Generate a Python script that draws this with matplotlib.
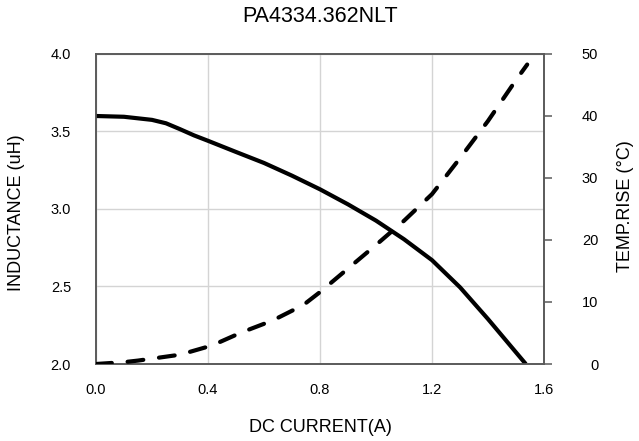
import matplotlib
matplotlib.use("Agg")
import matplotlib.pyplot as plt

# Data
current_L = [0.0, 0.1, 0.2, 0.25, 0.3, 0.35, 0.4, 0.5, 0.6, 0.7, 0.8, 0.9, 1.0, 1.1, 1.2, 1.3, 1.4, 1.5, 1.535]
inductance = [3.60, 3.595, 3.575, 3.553, 3.515, 3.475, 3.44, 3.368, 3.297, 3.215, 3.127, 3.03, 2.925, 2.805, 2.67, 2.495, 2.29, 2.075, 2.0]
current_T = [0.0, 0.1, 0.15, 0.3, 0.4, 0.44, 0.52, 0.63, 0.74, 0.8, 0.9, 1.0, 1.1, 1.2, 1.3, 1.4, 1.5, 1.54]
temp_rise = [0.0, 0.3, 0.55, 1.5, 2.8, 3.5, 5.1, 7.0, 9.5, 11.6, 15.4, 19.2, 23.1, 27.4, 33.2, 39.2, 45.8, 48.3]
x_ticks = [0.0, 0.4, 0.8, 1.2, 1.6]
y_ticks = [2.0, 2.5, 3.0, 3.5, 4.0]
t_ticks = [0, 10, 20, 30, 40, 50]

plt.rcParams['font.family'] = ['Liberation Sans', 'DejaVu Sans']

fig = plt.figure(figsize=(6.39, 4.41), dpi=100)
ax = fig.add_axes([96/639, 1-364/441, 448/639, 310/441])
ax2 = ax.twinx()

spine_c = '#5a5a5a'
grid_c = '#d4d4d4'

ax.plot(current_L, inductance, color='black', lw=3.0, solid_capstyle='butt',
        solid_joinstyle='round', zorder=3)
ax2.plot(current_T, temp_rise, color='black', lw=3.0, dashes=(3.8, 3.8),
         dash_capstyle='round', zorder=3)

ax.set_xlim(0, 1.6)
ax.set_ylim(2.0, 4.0)
ax2.set_ylim(0, 50)
ax.set_xticks(x_ticks)
ax.set_xticklabels([f"{v:.1f}" for v in x_ticks])
ax.set_yticks(y_ticks)
ax.set_yticklabels([f"{v:.1f}" for v in y_ticks])
ax2.set_yticks(t_ticks)
ax2.set_yticklabels([str(v) for v in t_ticks])

ax.grid(True, color=grid_c, lw=1.0)
ax.set_axisbelow(True)

ax.tick_params(axis='x', length=0, pad=14, labelsize=10.5, colors='black')
ax.tick_params(axis='y', length=0, pad=18, labelsize=10.5, colors='black')
ax2.tick_params(axis='y', length=6, width=1.1, color=spine_c, pad=33, labelsize=10.5, labelcolor='black')
for lab in ax2.get_yticklabels():
    lab.set_horizontalalignment('right')

for a in (ax, ax2):
    for s in a.spines.values():
        s.set_color(spine_c)
        s.set_linewidth(1.2)

fig.text(320/639, 1-427/441, 'DC CURRENT(A)', fontsize=13, ha='center', va='center')
fig.text(17/639, 1-213/441, 'INDUCTANCE (uH)', fontsize=13, ha='center', va='center', rotation=90)
fig.text(625/639, 1-206/441, 'TEMP.RISE (°C)', fontsize=13, ha='center', va='center', rotation=90)
fig.text(320/639, 1-17/441, 'PA4334.362NLT', fontsize=15.5, ha='center', va='center')

fig.savefig('out.png', dpi=100)
